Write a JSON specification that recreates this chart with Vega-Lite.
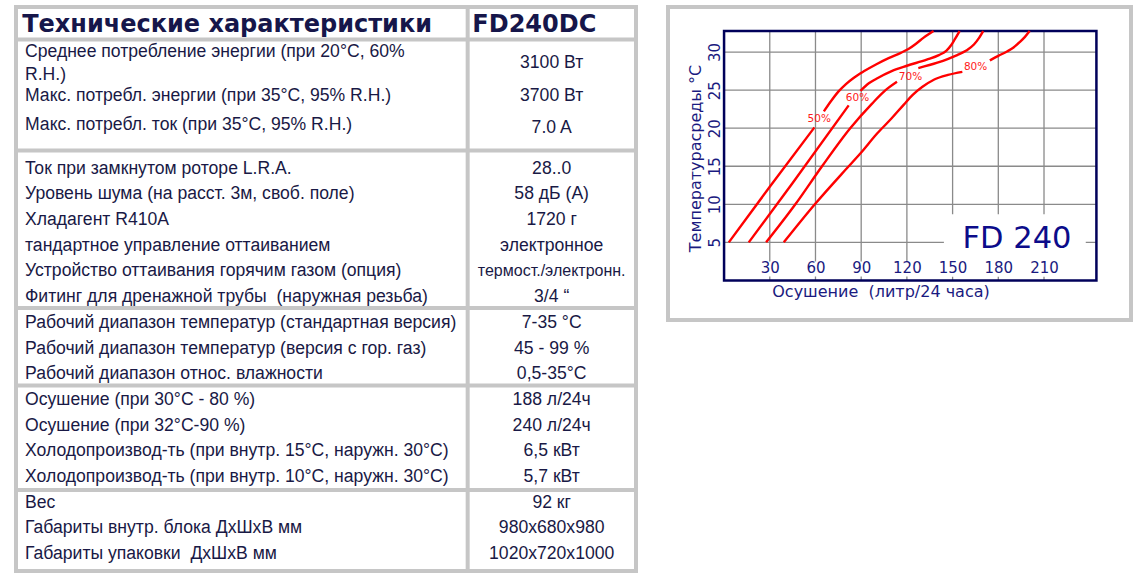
{
  "$schema": "https://vega.github.io/schema/vega-lite/v6.json",
  "background": "white",
  "padding": {"left": 12, "top": 3, "right": 0, "bottom": 0},
  "bounds": "flush",
  "spacing": 32,
  "config": {"view": {"stroke": null}},
  "datasets": {
    "specs": [
      {"param": "Среднее потребление энергии (при 20°C, 60%\nR.H.)", "pline": 1.46, "value": "3100 Вт", "vline": 1.9},
      {"param": "Макс. потребл. энергии (при 35°C, 95% R.H.)", "pline": 3.18, "value": "3700 Вт", "vline": 3.18},
      {"param": "\u00a0Макс. потребл. ток (при 35°C, 95% R.H.)", "pline": 4.3, "value": "7.0 A", "vline": 4.4},
      {"param": "Ток при замкнутом роторе L.R.A.", "pline": 6, "value": "28..0", "vline": 6},
      {"param": "Уровень шума (на расст. 3м, своб. поле)", "pline": 7, "value": "58 дБ (А)", "vline": 7},
      {"param": "Хладагент R410A", "pline": 8, "value": "1720 г", "vline": 8},
      {"param": "тандартное управление оттаиванием", "pline": 9, "value": "электронное", "vline": 9},
      {"param": "Устройство оттаивания горячим газом (опция)", "pline": 10, "value": "термост./электронн.", "vline": 10},
      {"param": "Фитинг для дренажной трубы\u00a0 (наружная резьба)", "pline": 11, "value": "3/4 “", "vline": 11},
      {"param": "Рабочий диапазон температур (стандартная версия)", "pline": 12, "value": "7-35 °C", "vline": 12},
      {"param": "Рабочий диапазон температур (версия с гор. газ)", "pline": 13, "value": "45 - 99 %", "vline": 13},
      {"param": "Рабочий диапазон относ. влажности", "pline": 14, "value": "0,5-35°C", "vline": 14},
      {"param": "Осушение (при 30°C - 80 %)", "pline": 15, "value": "188 л/24ч", "vline": 15},
      {"param": "Осушение (при 32°C-90 %)", "pline": 16, "value": "240 л/24ч", "vline": 16},
      {"param": "Холодопроизвод-ть (при внутр. 15°C, наружн. 30°C)", "pline": 17, "value": "6,5 кВт", "vline": 17},
      {"param": "Холодопроизвод-ть (при внутр. 10°C, наружн. 30°C)", "pline": 18, "value": "5,7 кВт", "vline": 18},
      {"param": "Вес", "pline": 19, "value": "92 кг", "vline": 19},
      {"param": "Габариты внутр. блока ДхШхВ мм", "pline": 20, "value": "980x680x980", "vline": 20},
      {"param": "Габариты упаковки\u00a0 ДхШхВ мм", "pline": 21, "value": "1020x720x1000", "vline": 21}
    ],
    "separators": [{"line": 0.973}, {"line": 5.29}, {"line": 11.42}, {"line": 14.44}, {"line": 18.5}],
    "gridX": [{"v": 30}, {"v": 60}, {"v": 90}, {"v": 120}, {"v": 150}, {"v": 180}, {"v": 210}],
    "gridY": [{"v": 5}, {"v": 10}, {"v": 15}, {"v": 20}, {"v": 25}, {"v": 30}],
    "curves": [
      {"rh": "50%", "part": "a", "x": 3.1, "y": 5},
      {"rh": "50%", "part": "a", "x": 30, "y": 12.3},
      {"rh": "50%", "part": "a", "x": 59.3, "y": 20.1},
      {"rh": "50%", "part": "b", "x": 65.5, "y": 22.2},
      {"rh": "50%", "part": "b", "x": 70, "y": 23.5},
      {"rh": "50%", "part": "b", "x": 75, "y": 24.8},
      {"rh": "50%", "part": "b", "x": 80, "y": 25.8},
      {"rh": "50%", "part": "b", "x": 85, "y": 26.6},
      {"rh": "50%", "part": "b", "x": 92, "y": 27.5},
      {"rh": "50%", "part": "b", "x": 100, "y": 28.4},
      {"rh": "50%", "part": "b", "x": 108, "y": 29.2},
      {"rh": "50%", "part": "b", "x": 116, "y": 29.9},
      {"rh": "50%", "part": "b", "x": 121, "y": 30.4},
      {"rh": "50%", "part": "b", "x": 126, "y": 31.1},
      {"rh": "50%", "part": "b", "x": 131, "y": 31.9},
      {"rh": "50%", "part": "b", "x": 137.5, "y": 32.76},
      {"rh": "60%", "part": "a", "x": 16.2, "y": 5},
      {"rh": "60%", "part": "a", "x": 45, "y": 12.8},
      {"rh": "60%", "part": "a", "x": 81.8, "y": 23.0},
      {"rh": "60%", "part": "b", "x": 89.5, "y": 24.9},
      {"rh": "60%", "part": "b", "x": 95, "y": 25.9},
      {"rh": "60%", "part": "b", "x": 100, "y": 26.5},
      {"rh": "60%", "part": "b", "x": 110, "y": 27.5},
      {"rh": "60%", "part": "b", "x": 120, "y": 28.2},
      {"rh": "60%", "part": "b", "x": 133, "y": 29.0},
      {"rh": "60%", "part": "b", "x": 141, "y": 29.6},
      {"rh": "60%", "part": "b", "x": 146, "y": 30.2},
      {"rh": "60%", "part": "b", "x": 149, "y": 30.9},
      {"rh": "60%", "part": "b", "x": 151.5, "y": 31.7},
      {"rh": "60%", "part": "b", "x": 154.6, "y": 32.76},
      {"rh": "70%", "part": "a", "x": 27.6, "y": 5},
      {"rh": "70%", "part": "a", "x": 46.8, "y": 10},
      {"rh": "70%", "part": "a", "x": 64.3, "y": 15},
      {"rh": "70%", "part": "a", "x": 82.8, "y": 20},
      {"rh": "70%", "part": "a", "x": 97, "y": 23.2},
      {"rh": "70%", "part": "a", "x": 106, "y": 25},
      {"rh": "70%", "part": "a", "x": 113.5, "y": 26.1},
      {"rh": "70%", "part": "b", "x": 127.5, "y": 27.9},
      {"rh": "70%", "part": "b", "x": 140, "y": 28.6},
      {"rh": "70%", "part": "b", "x": 153, "y": 29.6},
      {"rh": "70%", "part": "b", "x": 159, "y": 30.2},
      {"rh": "70%", "part": "b", "x": 164, "y": 31.0},
      {"rh": "70%", "part": "b", "x": 167.5, "y": 31.9},
      {"rh": "70%", "part": "b", "x": 170.1, "y": 32.76},
      {"rh": "80%", "part": "a", "x": 39.2, "y": 5},
      {"rh": "80%", "part": "a", "x": 60, "y": 10.1},
      {"rh": "80%", "part": "a", "x": 80, "y": 14.6},
      {"rh": "80%", "part": "a", "x": 90, "y": 16.8},
      {"rh": "80%", "part": "a", "x": 100, "y": 19.2},
      {"rh": "80%", "part": "a", "x": 110, "y": 21.3},
      {"rh": "80%", "part": "a", "x": 118, "y": 23.1},
      {"rh": "80%", "part": "a", "x": 124, "y": 24.4},
      {"rh": "80%", "part": "a", "x": 130, "y": 25.4},
      {"rh": "80%", "part": "a", "x": 138, "y": 26.4},
      {"rh": "80%", "part": "a", "x": 147, "y": 27.0},
      {"rh": "80%", "part": "a", "x": 156.4, "y": 27.4},
      {"rh": "80%", "part": "b", "x": 174.5, "y": 28.9},
      {"rh": "80%", "part": "b", "x": 180, "y": 29.5},
      {"rh": "80%", "part": "b", "x": 186, "y": 30.1},
      {"rh": "80%", "part": "b", "x": 190, "y": 30.6},
      {"rh": "80%", "part": "b", "x": 194, "y": 31.3},
      {"rh": "80%", "part": "b", "x": 197.5, "y": 32.0},
      {"rh": "80%", "part": "b", "x": 200.6, "y": 32.76}
    ],
    "rhLabels": [
      {"rh": "50%", "x": 62.5, "y": 21.2},
      {"rh": "60%", "x": 87.6, "y": 23.9},
      {"rh": "70%", "x": 122.4, "y": 26.7},
      {"rh": "80%", "x": 165.1, "y": 28.0}
    ]
  },
  "hconcat": [
    {
      "width": 620,
      "height": 564,
      "view": {"stroke": "#c6c6c6", "strokeWidth": 4},
      "layer": [
        {
          "data": {"name": "separators"},
          "mark": {"type": "rule", "color": "#c6c6c6", "strokeWidth": 4},
          "encoding": {
            "y": {"field": "line", "type": "quantitative", "scale": {"domain": [-0.292, 21.654], "reverse": true, "nice": false, "zero": false}, "axis": null}
          }
        },
        {
          "data": {"values": [{}]},
          "mark": {"type": "rule", "color": "#c6c6c6", "strokeWidth": 4},
          "encoding": {
            "x": {"datum": 72.85, "type": "quantitative", "scale": {"domain": [0, 100], "nice": false, "zero": false}, "axis": null}
          }
        },
        {
          "data": {"values": [{"text": "Технические характеристики", "line": 0.39}]},
          "mark": {"type": "text", "font": "DejaVu Sans", "fontWeight": "bold", "fontSize": 24, "color": "#16164a", "align": "left", "baseline": "middle"},
          "encoding": {
            "x": {"datum": 1.0, "type": "quantitative", "scale": {"domain": [0, 100], "nice": false, "zero": false}, "axis": null},
            "y": {"field": "line", "type": "quantitative", "scale": {"domain": [-0.292, 21.654], "reverse": true, "nice": false, "zero": false}, "axis": null},
            "text": {"field": "text"}
          }
        },
        {
          "data": {"values": [{"text": "FD240DC", "line": 0.39}]},
          "mark": {"type": "text", "font": "DejaVu Sans", "fontWeight": "bold", "fontSize": 24, "color": "#16164a", "align": "left", "baseline": "middle"},
          "encoding": {
            "x": {"datum": 73.6, "type": "quantitative", "scale": {"domain": [0, 100], "nice": false, "zero": false}, "axis": null},
            "y": {"field": "line", "type": "quantitative", "scale": {"domain": [-0.292, 21.654], "reverse": true, "nice": false, "zero": false}, "axis": null},
            "text": {"field": "text"}
          }
        },
        {
          "data": {"name": "specs"},
          "mark": {"type": "text", "font": "Liberation Sans", "fontSize": 17.6, "color": "#191945", "align": "left", "baseline": "middle", "lineBreak": "\n", "lineHeight": 22.7},
          "encoding": {
            "x": {"datum": 1.45, "type": "quantitative", "scale": {"domain": [0, 100], "nice": false, "zero": false}, "axis": null},
            "y": {"field": "pline", "type": "quantitative", "scale": {"domain": [-0.292, 21.654], "reverse": true, "nice": false, "zero": false}, "axis": null},
            "text": {"field": "param"}
          }
        },
        {
          "data": {"name": "specs"},
          "transform": [{"filter": "length(datum.value) < 15"}],
          "mark": {"type": "text", "font": "Liberation Sans", "fontSize": 17.6, "color": "#191945", "align": "center", "baseline": "middle"},
          "encoding": {
            "x": {"datum": 86.4, "type": "quantitative", "scale": {"domain": [0, 100], "nice": false, "zero": false}, "axis": null},
            "y": {"field": "vline", "type": "quantitative", "scale": {"domain": [-0.292, 21.654], "reverse": true, "nice": false, "zero": false}, "axis": null},
            "text": {"field": "value"}
          }
        },
        {
          "data": {"name": "specs"},
          "transform": [{"filter": "length(datum.value) >= 15"}],
          "mark": {"type": "text", "font": "Liberation Sans", "fontSize": 16, "color": "#191945", "align": "center", "baseline": "middle"},
          "encoding": {
            "x": {"datum": 86.4, "type": "quantitative", "scale": {"domain": [0, 100], "nice": false, "zero": false}, "axis": null},
            "y": {"field": "vline", "type": "quantitative", "scale": {"domain": [-0.292, 21.654], "reverse": true, "nice": false, "zero": false}, "axis": null},
            "text": {"field": "value"}
          }
        }
      ]
    },
    {
      "width": 463,
      "height": 313,
      "view": {"stroke": "#c6c6c6", "strokeWidth": 4},
      "layer": [
        {
          "data": {"name": "gridX"},
          "mark": {"type": "rule", "color": "#8a8a8a", "strokeWidth": 1.3},
          "encoding": {
            "x": {
              "field": "v", "type": "quantitative",
              "scale": {"domain": [-36.8, 267.1], "nice": false, "zero": false},
              "axis": {
                "values": [30, 60, 90, 120, 150, 180, 210],
                "grid": false, "domain": false, "ticks": false, "tickSize": 0,
                "offset": -61.5, "labelPadding": 2, "labelAngle": 0,
                "labelFont": "DejaVu Sans", "labelFontSize": 15, "labelColor": "#1a1a80",
                "labelFlush": false, "labelOverlap": false,
                "title": "Осушение\u00a0 (литр/24 часа)",
                "titleFont": "DejaVu Sans", "titleFontSize": 16, "titleFontWeight": "normal", "titleColor": "#1a1a80",
                "titleX": 212.5, "titlePadding": 8, "zindex": 1
              }
            },
            "y": {
              "datum": 0, "type": "quantitative",
              "scale": {"domain": [-5.2, 35.92], "nice": false, "zero": false},
              "axis": {
                "values": [5, 10, 15, 20, 25, 30],
                "grid": false, "domain": false, "ticks": false, "tickSize": 0,
                "offset": -56,
                "labelAngle": 270, "labelAlign": "center", "labelBaseline": "bottom", "labelPadding": 2,
                "labelFont": "DejaVu Sans", "labelFontSize": 15, "labelColor": "#1a1a80",
                "labelFlush": false, "labelOverlap": false,
                "title": "Температурасреды °C",
                "titleFont": "DejaVu Sans", "titleFontSize": 16, "titleFontWeight": "normal", "titleColor": "#1a1a80",
                "titlePadding": 4, "titleY": 151
              }
            },
            "y2": {"datum": 32.76}
          }
        },
        {
          "data": {"name": "gridY"},
          "mark": {"type": "rule", "color": "#8a8a8a", "strokeWidth": 1.3},
          "encoding": {
            "y": {"field": "v", "type": "quantitative"},
            "x": {"datum": 0, "type": "quantitative"},
            "x2": {"datum": 244.4}
          }
        },
        {
          "data": {"values": [{}]},
          "mark": {"type": "rect", "color": "white"},
          "encoding": {
            "x": {"datum": 1, "type": "quantitative"},
            "x2": {"datum": 243.4},
            "y": {"datum": 0.5, "type": "quantitative"},
            "y2": {"datum": 2.5}
          }
        },
        {
          "data": {"values": [{}]},
          "mark": {"type": "rect", "color": "white"},
          "encoding": {
            "x": {"datum": 144.3, "type": "quantitative"},
            "x2": {"datum": 237.4},
            "y": {"datum": 0.5, "type": "quantitative"},
            "y2": {"datum": 8.7}
          }
        },
        {
          "data": {"values": [{}]},
          "mark": {"type": "rect", "filled": false, "stroke": "#00005a", "strokeWidth": 2.5},
          "encoding": {
            "x": {"datum": 0, "type": "quantitative"},
            "x2": {"datum": 244.4},
            "y": {"datum": 0, "type": "quantitative"},
            "y2": {"datum": 32.76}
          }
        },
        {
          "data": {"name": "curves"},
          "mark": {"type": "line", "color": "#ff0000", "strokeWidth": 2.4, "interpolate": "monotone"},
          "encoding": {
            "x": {"field": "x", "type": "quantitative"},
            "y": {"field": "y", "type": "quantitative"},
            "detail": [{"field": "rh"}, {"field": "part"}]
          }
        },
        {
          "data": {"name": "rhLabels"},
          "mark": {"type": "text", "font": "DejaVu Sans", "fontSize": 10.5, "color": "#ff1a1a", "align": "center", "baseline": "middle"},
          "encoding": {
            "x": {"field": "x", "type": "quantitative"},
            "y": {"field": "y", "type": "quantitative"},
            "text": {"field": "rh"}
          }
        },
        {
          "data": {"values": [{"label": "FD 240"}]},
          "mark": {"type": "text", "font": "DejaVu Sans", "fontSize": 30.5, "color": "#0c0c8a", "align": "center", "baseline": "alphabetic"},
          "encoding": {
            "x": {"datum": 192.3, "type": "quantitative"},
            "y": {"datum": 4.3, "type": "quantitative"},
            "text": {"field": "label"}
          }
        }
      ]
    }
  ]
}
